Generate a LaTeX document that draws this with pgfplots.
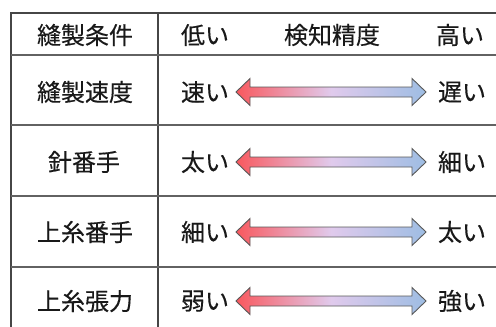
\documentclass[border=0pt]{standalone}
\usepackage{fontspec}
\setmainfont{Noto Sans CJK JP}[FakeBold=0.3]
\usepackage{pgfplots}
\pgfplotsset{compat=1.18}
\definecolor{arrred}{RGB}{249,88,94}
\definecolor{arrmid}{RGB}{224,202,236}
\definecolor{arrblue}{RGB}{158,189,227}
\definecolor{gridc}{RGB}{70,70,70}
\begin{document}
\begin{tikzpicture}[every node/.style={font=\fontsize{24bp}{26bp}\selectfont, text=black!90}]
\begin{axis}[
  scale only axis, width=496bp, height=327bp,
  xmin=0, xmax=496, ymin=0, ymax=327, y dir=reverse,
  hide axis, clip=true,
]
\path (axis cs:0,0) rectangle (axis cs:496,327);
% table rules
\addplot[gridc, line width=1.4bp] coordinates {(11,327) (11,13) (496,13)};
\addplot[gridc, line width=1.4bp] coordinates {(158,13) (158,327)};
\addplot[gridc!85, line width=1.4bp] coordinates {(11,55) (496,55)};
\addplot[gridc!85, line width=1.4bp] coordinates {(11,125) (496,125)};
\addplot[gridc!85, line width=1.4bp] coordinates {(11,196) (496,196)};
\addplot[gridc!85, line width=1.4bp] coordinates {(11,267) (496,267)};
% arrows
\foreach \cy in {92,162,232,301}{
\addplot[draw=gray!70!black, line width=0.9bp, left color=arrred, right color=arrblue, middle color=arrmid]
 coordinates {(236,\cy) (250,\cy-13.5) (250,\cy-5) (412,\cy-5) (412,\cy-13.5) (426,\cy)
              (412,\cy+13.5) (412,\cy+5) (250,\cy+5) (250,\cy+13.5) (236,\cy)} -- cycle;
}
% texts
\node at (axis cs:85,35) {縫製条件};
\node at (axis cs:205,35) {低い};
\node at (axis cs:332,35) {検知精度};
\node at (axis cs:460,35) {高い};
\node at (axis cs:85,92) {縫製速度};
\node at (axis cs:84,162) {針番手};
\node at (axis cs:85,232) {上糸番手};
\node at (axis cs:85,301) {上糸張力};
\node at (axis cs:205,92) {速い};
\node at (axis cs:205,162) {太い};
\node at (axis cs:205,232) {細い};
\node at (axis cs:205,301) {弱い};
\node at (axis cs:462,92) {遅い};
\node at (axis cs:462,162) {細い};
\node at (axis cs:462,232) {太い};
\node at (axis cs:462,301) {強い};
\end{axis}
\end{tikzpicture}
\end{document}
